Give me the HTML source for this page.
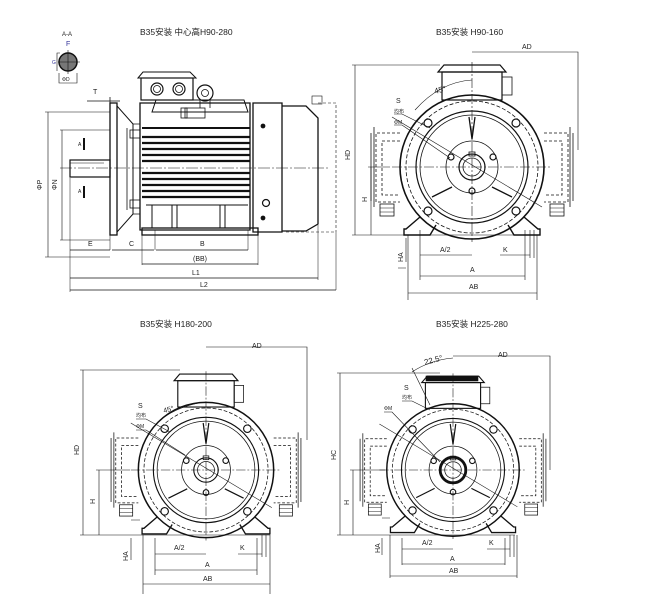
<!DOCTYPE html>
<html><head><meta charset="utf-8"><style>
html,body{margin:0;padding:0;background:#fff;}
svg{display:block}
text{font-family:"Liberation Sans","Noto Sans CJK SC",sans-serif;font-size:7px;fill:#222;stroke:none}
.t{font-size:8.5px}
</style></head><body>
<svg width="645" height="594" viewBox="0 0 645 594" xmlns="http://www.w3.org/2000/svg" fill="none" stroke="#111" stroke-width="0.8">
<defs>
<g id="fv">
  <g stroke-dasharray="3,2">
    <path d="M-72,-34 H-96 V35 H-72"/><path d="M72,-34 H96 V35 H72"/>
    <path d="M-72,-26 H-90 V28 H-72"/><path d="M72,-26 H90 V28 H72"/>
  </g>
  <path d="M-98,-40 V40 M-101,-34 V34 M98,-40 V40 M101,-34 V34"/>
  <rect x="-92" y="37" width="14" height="12"/><rect x="78" y="37" width="14" height="12"/>
  <path d="M-92,41 H-78 M-92,45 H-78 M78,41 H92 M78,45 H92" stroke-width="0.5"/>
  <path d="M-52,50 L-66,62 H-68 V68 H-42 L-36,58" stroke-width="1.4"/>
  <path d="M52,50 L66,62 H68 V68 H42 L36,58" stroke-width="1.4"/>
  <rect x="-30" y="-95" width="60" height="28" stroke-width="1.2"/>
  <path d="M-34,-95 L-28,-102 H28 L34,-95 Z" stroke-width="1.2"/>
  <rect x="30" y="-90" width="10" height="18"/>
  <circle r="72" stroke-width="1.6"/>
  <circle r="66" stroke-dasharray="4,2"/>
  <circle r="56" stroke-width="1.2"/>
  <circle r="52"/>
  <circle r="26"/>
  <circle r="13" stroke-width="1.2"/>
  <circle r="9"/>
  <rect x="-3" y="-15" width="6" height="4"/>
  <g stroke-width="1.2">
  <circle cx="-44" cy="-44" r="4"/><circle cx="44" cy="-44" r="4"/>
  <circle cx="-44" cy="44" r="4"/><circle cx="44" cy="44" r="4"/>
  <circle cx="-21" cy="-10" r="3"/><circle cx="21" cy="-10" r="3"/><circle cx="0" cy="24" r="3"/>
  </g>
  <path d="M-3,-50 L0,-28 L3,-50 M-40,30 L-20,20 M40,30 L20,20" stroke-width="1.3"/>
  <path d="M-80,0 H80 M0,-105 V75" stroke-dasharray="10,2,2,2" stroke-width="0.6"/>
  <path d="M-80,-50 L70,40" stroke-width="0.6"/>
</g>
</defs>

<text class="t" x="140" y="35">B35安装 中心高H90-280</text>
<text class="t" x="436" y="35">B35安装 H90-160</text>
<text class="t" x="140" y="327">B35安装 H180-200</text>
<text class="t" x="436" y="327">B35安装 H225-280</text>

<text x="62" y="36" style="font-size:6px">A-A</text>
<text x="66" y="46" style="font-size:7px;fill:#339">F</text>
<circle cx="68" cy="62" r="9" stroke-width="1.5" fill="#777"/>
<path d="M58,62 H80 M68,50 V74 M60,53 H57 V71 M59,73 V83 H77 V73" stroke-width="0.6"/>
<text x="62" y="81" style="font-size:5px">ΦD</text>
<text x="52" y="64" style="font-size:5px;fill:#339">G</text>

<g>
  <text x="93" y="94">T</text>
  <path d="M87,101 H120 M110,97 V103"/>
  <rect x="110" y="103" width="7" height="132" stroke-width="1.3"/>
  <path d="M117,106 L133,124 V214 L117,232" stroke-width="1"/>
  <path d="M133,124 H140 V214 H133 M127,128 V210"/>
  <rect x="130" y="130" width="10" height="8"/><rect x="130" y="200" width="10" height="8"/>
  <rect x="70" y="160" width="40" height="17" stroke-width="1.2"/>
  <path d="M70,163 H104" stroke-width="0.5"/>
  <path d="M84,138 V150 M84,186 V198" stroke-width="2"/>
  <text x="78" y="146" style="font-size:5px">A</text><text x="78" y="193" style="font-size:5px">A</text>
  <path d="M140,103 H250 V230 H140 Z" stroke-width="1.3"/>
  <path d="M152,112 L156,100 H244 L248,112 H152 Z" stroke-width="1"/>
  <rect x="185" y="108" width="20" height="10"/>
  <rect x="181" y="108" width="6" height="10"/>
  <g stroke-width="2.2">
    <path d="M142,137 H250 M142,143 H250 M142,149 H250 M142,155 H250 M142,161 H250 M142,173 H250 M142,179 H250 M142,185 H250 M142,191 H250 M142,197 H250"/>
  </g>
  <path d="M142,128 H250" stroke-width="2"/>
  <path d="M152,205 V228 M172,205 V228 M177,205 V228 M220,205 V228 M225,205 V228 M146,205 H248" stroke-width="1"/>
  <rect x="142" y="228" width="116" height="7" stroke-width="1.3"/>
  <rect x="141" y="78" width="52" height="22" stroke-width="1.2"/>
  <path d="M138,78 L143,72 H190 L196,78 Z" stroke-width="1"/>
  <circle cx="157" cy="89" r="6" stroke-width="1.2"/><circle cx="157" cy="89" r="3.5"/>
  <circle cx="179" cy="89" r="6" stroke-width="1.2"/><circle cx="179" cy="89" r="3.5"/>
  <circle cx="205" cy="93" r="8" stroke-width="1.2"/><circle cx="205" cy="93" r="3.5"/>
  <path d="M200,100 V108 M210,100 V108"/>
  <path d="M253,103 H282 V232 H253 Z" stroke-width="1.3"/>
  <path d="M282,106 H306 L318,118 V224 L306,231 H282" stroke-width="1.3"/>
  <circle cx="263" cy="126" r="2" fill="#111"/><circle cx="263" cy="218" r="2" fill="#111"/>
  <circle cx="266" cy="203" r="3.5" stroke-width="1.2"/>
  <path d="M318,103 H336 V232 M286,232 H336" stroke-dasharray="3,2" stroke-width="0.6"/>
  <rect x="312" y="96" width="10" height="8" stroke-width="0.6"/>
  <path d="M60,168 H330" stroke-dasharray="12,2,2,2" stroke-width="0.5"/>
  <path d="M48,112 V257 M45,112 H110 M45,257 H110" stroke-width="0.6"/>
  <text x="42" y="190" transform="rotate(-90 42 190)">ΦP</text>
  <path d="M62,130 V240 M60,130 H110 M60,240 H110" stroke-width="0.6"/>
  <text x="57" y="190" transform="rotate(-90 57 190)">ΦN</text>
  <path d="M70,178 V292 M110,235 V250 M155,230 V250 M248,230 V250 M142,235 V265 M258,235 V265 M318,225 V280 M336,232 V290" stroke-width="0.5"/>
  <path d="M70,250 H110 M112,250 H154 M156,250 H248" stroke-width="0.7"/>
  <text x="88" y="246">E</text><text x="129" y="246">C</text><text x="200" y="246">B</text>
  <path d="M142,264 H258" stroke-width="0.7"/><text x="193" y="261">(BB)</text>
  <path d="M70,278 H318" stroke-width="0.7"/><text x="192" y="275">L1</text>
  <path d="M70,290 H336" stroke-width="0.7"/><text x="200" y="287">L2</text>
</g>

<use href="#fv" transform="translate(472,167)"/>
<g stroke-width="0.6">
  <path d="M472,52 H578 V150"/><text x="522" y="49">AD</text>
  <path d="M352,65 H440 M355,65 V235 M352,235 H540"/><text x="350" y="160" transform="rotate(-90 350 160)">HD</text>
  <path d="M368,167 H390 M371,167 V235"/><text x="367" y="202" transform="rotate(-90 367 202)">H</text>
  <path d="M406,238 V262 M406,268 H398"/><text x="403" y="262" transform="rotate(-90 403 262)">HA</text>
  <path d="M420,230 V280 M525,230 V280 M408,235 V300 M537,235 V300 M530,230 V258 M534,230 V258"/>
  <path d="M420,255 H472"/><text x="440" y="252">A/2</text>
  <path d="M500,255 H530"/><text x="503" y="252">K</text>
  <path d="M420,276 H525"/><text x="470" y="272">A</text>
  <path d="M408,293 H537"/><text x="469" y="289">AB</text>
  <text x="435" y="94" transform="rotate(-15 435 94)" style="font-size:8px">45°</text>
  <path d="M415,110 Q440,82 472,80"/>
  <text x="396" y="103">S</text><text x="394" y="113" style="font-size:5px">均布</text><text x="394" y="124" style="font-size:5px">ΦM</text>
  <path d="M394,114 H402 L430,128 M394,125 H402 L450,158"/>
</g>

<use href="#fv" transform="translate(206,470) scale(0.94)"/>
<g stroke-width="0.6">
  <path d="M206,347 H307 V440"/><text x="252" y="348">AD</text>
  <path d="M80,370 H180 M83,370 V535 M80,535 H270"/><text x="79" y="455" transform="rotate(-90 79 455)">HD</text>
  <path d="M96,470 H130 M99,470 V535"/><text x="95" y="504" transform="rotate(-90 95 504)">H</text>
  <path d="M131,538 V560 M131,520 H140"/><text x="128" y="561" transform="rotate(-90 128 561)">HA</text>
  <path d="M155,538 V575 M257,538 V575 M143,535 V594 M270,535 V594 M262,535 V557 M266,535 V557"/>
  <path d="M155,554 H206"/><text x="174" y="550">A/2</text>
  <path d="M238,554 H262"/><text x="240" y="550">K</text>
  <path d="M155,570 H257"/><text x="205" y="567">A</text>
  <path d="M143,584 H270"/><text x="203" y="581">AB</text>
  <text x="164" y="413" transform="rotate(-15 164 413)">45°</text>
  <path d="M160,420 Q180,405 206,402"/>
  <text x="138" y="408">S</text><text x="136" y="417" style="font-size:5px">均布</text><text x="136" y="428" style="font-size:5px">ΦM</text>
  <path d="M136,419 H146 L170,432 M136,430 H146 L185,455"/>
</g>

<use href="#fv" transform="translate(453,470) scale(0.92)"/>
<g stroke-width="0.6">
  <rect x="426" y="376" width="52" height="5" fill="#111"/>
  <circle cx="453" cy="470" r="13" stroke-width="2.5"/>
  <path d="M453,356 H550 V470"/><text x="498" y="357">AD</text>
  <path d="M337,373 H440 M340,373 V535 M337,535 H515"/><text x="336" y="460" transform="rotate(-90 336 460)">HC</text>
  <path d="M350,470 H385 M353,470 V535"/><text x="349" y="505" transform="rotate(-90 349 505)">H</text>
  <path d="M382,538 V555 M382,518 H390"/><text x="380" y="553" transform="rotate(-90 380 553)">HA</text>
  <path d="M402,538 V565 M505,538 V565 M390,535 V578 M517,535 V578 M510,535 V557 M514,535 V557"/>
  <path d="M402,549 H453"/><text x="422" y="545">A/2</text>
  <path d="M487,549 H510"/><text x="489" y="545">K</text>
  <path d="M402,564 H505"/><text x="450" y="561">A</text>
  <path d="M390,576 H517"/><text x="449" y="573">AB</text>
  <text x="425" y="365" transform="rotate(-15 425 365)" style="font-size:8px">22.5°</text>
  <path d="M412,372 Q430,360 453,358 M412,368 L430,405"/>
  <text x="404" y="390">S</text><text x="402" y="399" style="font-size:5px">均布</text><text x="384" y="410" style="font-size:5px">ΦM</text>
  <path d="M402,401 H412 L430,410 M384,412 H392 L440,462"/>
</g>
</svg>
</body></html>
